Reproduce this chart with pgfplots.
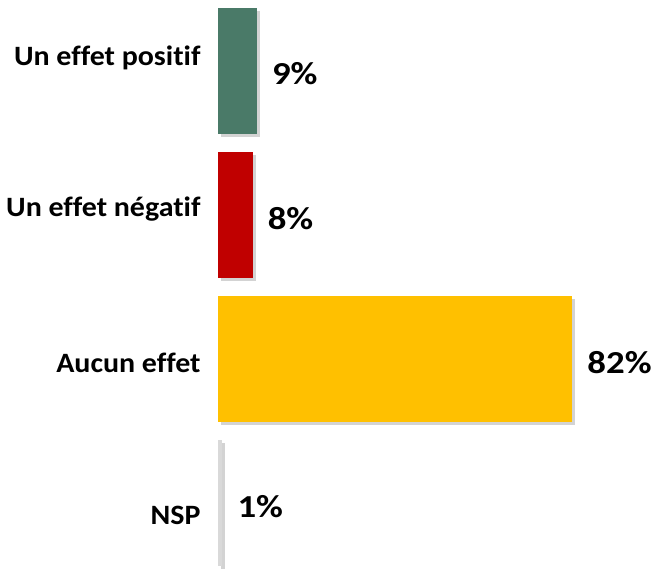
\documentclass[border=0pt]{standalone}
\usepackage{pgfplots}
\pgfplotsset{compat=1.18}
\usepackage{fontspec}
\setmainfont{Carlito}[Ligatures=NoCommon]
\usetikzlibrary{shadows}
\definecolor{cgreen}{HTML}{4A7A68}
\definecolor{cred}{HTML}{C00000}
\definecolor{cgold}{HTML}{FFC000}
\definecolor{cgray}{HTML}{D9D9D9}
\newcommand{\lab}[1]{\scalebox{1.07}[1]{#1}}
\begin{document}
\begin{tikzpicture}[x=1pt,y=1pt]
\useasboundingbox (-218,0) rectangle (437,569);
\begin{axis}[
  at={(0,0)}, anchor=south west,
  scale only axis, width=437pt, height=569pt,
  xmin=0, xmax=101.16,
  ymin=-0.493, ymax=3.455,
  y dir=reverse,
  xbar, bar width=0.875, bar shift=0pt,
  axis line style={draw=none},
  tick style={draw=none},
  xtick=\empty,
  ytick={-0.09,0.96,2.025,3.08},
  yticklabels={\lab{Un effet positif}, \lab{Un effet négatif}, \lab{Aucun effet}, \lab{NSP}},
  yticklabel style={font=\fontsize{28}{32}\selectfont\bfseries, inner sep=0pt, xshift=-13pt},
  /pgf/number format/assume math mode=true,
  nodes near coords={\scalebox{1.15}[1]{\pgfmathprintnumber{\pgfplotspointmeta}\%}},
  nodes near coords style={font=\fontsize{32}{36}\selectfont\bfseries, black, inner sep=0pt, xshift=15pt, yshift=-3pt},
  point meta=x,
  clip=false,
]
\addplot[fill=cgreen, draw=none, drop shadow={opacity=0.35, shadow xshift=3pt, shadow yshift=-3pt}] coordinates {(9,0)};
\addplot[fill=cred, draw=none, drop shadow={opacity=0.35, shadow xshift=3pt, shadow yshift=-3pt}] coordinates {(8,1)};
\addplot[fill=cgold, draw=none, drop shadow={opacity=0.35, shadow xshift=3pt, shadow yshift=-3pt}] coordinates {(82,2)};
\addplot[fill=cgray, draw=none, drop shadow={opacity=0.35, shadow xshift=3pt, shadow yshift=-3pt}] coordinates {(1,3)};
\end{axis}
\end{tikzpicture}
\end{document}
